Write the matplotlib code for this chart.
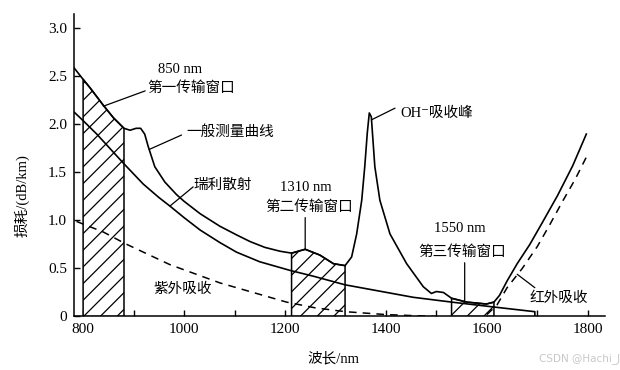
import numpy as np
import matplotlib
matplotlib.use("Agg")
import matplotlib.pyplot as plt

plt.rcParams['font.family'] = ['Liberation Serif', 'Noto Sans CJK SC', 'DejaVu Sans']
plt.rcParams['font.size'] = 10.5
plt.rcParams['hatch.linewidth'] = 0.9

# general measured loss curve (nm, dB/km)
meas_nm = [782, 800, 814, 840, 860, 881, 893, 905, 914, 922, 929, 942, 962, 985, 1000,
           1032, 1071, 1104, 1131, 1160, 1190, 1213, 1240, 1269, 1296, 1319, 1332, 1342, 1352,
           1358, 1363, 1367, 1371, 1378, 1388, 1408, 1441, 1474, 1490, 1500, 1514,
           1530, 1560, 1599, 1614, 1625, 1640, 1660, 1685, 1710, 1740, 1770, 1797]
meas_db = [2.59, 2.47, 2.38, 2.20, 2.07, 1.96, 1.94, 1.96, 1.96, 1.90, 1.77, 1.56, 1.40, 1.27, 1.20,
           1.07, 0.94, 0.85, 0.78, 0.72, 0.68, 0.66, 0.70, 0.64, 0.55, 0.53, 0.62, 0.86, 1.21,
           1.56, 1.91, 2.12, 2.08, 1.56, 1.21, 0.86, 0.55, 0.31, 0.24, 0.26, 0.25,
           0.19, 0.15, 0.13, 0.15, 0.22, 0.37, 0.55, 0.75, 0.98, 1.26, 1.57, 1.90]

# Rayleigh scattering
ray_nm = [782, 800, 827, 881, 919, 950, 972, 1000, 1032, 1071, 1104, 1150, 1210, 1256, 1319,
          1454, 1530, 1612, 1695, 1695]
ray_db = [2.13, 2.04, 1.90, 1.59, 1.38, 1.24, 1.15, 1.03, 0.90, 0.77, 0.67, 0.57, 0.48, 0.42, 0.33,
          0.20, 0.15, 0.10, 0.05, 0.0]

# UV absorption
uv_nm = [787, 840, 883, 972, 1071, 1203, 1260, 1320, 1400, 1500]
uv_db = [0.99, 0.88, 0.76, 0.54, 0.35, 0.15, 0.09, 0.05, 0.02, 0.0]

# IR absorption
ir_nm = [1600, 1620, 1640, 1670, 1700, 1725, 1750, 1775, 1797]
ir_db = [0.02, 0.12, 0.30, 0.50, 0.73, 0.96, 1.20, 1.43, 1.66]

# transmission windows (start, end)
windows = [(800, 881), (1213, 1319), (1530, 1614)]

fig = plt.figure(figsize=(6.2, 3.7), dpi=100)
ax = fig.add_axes([0.1194, 0.1446, 0.8564, 0.8174])

x = np.array(meas_nm)
y = np.array(meas_db)
for a, b in windows:
    ax.fill_between(x, 0, y, where=(x >= a) & (x <= b), facecolor='white',
                    edgecolor='black', hatch='//', linewidth=1.1, zorder=2)

ax.plot(meas_nm, meas_db, color='black', lw=1.2, zorder=3)
ax.plot(ray_nm, ray_db, color='black', lw=1.2, zorder=3)
ax.plot(uv_nm, uv_db, color='black', lw=1.1, ls=(0, (5, 4)), zorder=3)
ax.plot(ir_nm, ir_db, color='black', lw=1.1, ls=(0, (5, 4)), zorder=3)

lead = dict(arrowstyle='-', color='black', lw=0.9, shrinkA=0, shrinkB=0)
ax.text(992, 2.57, '850 nm', ha='center', va='center')
ax.text(1014, 2.38, '第一传输窗口', ha='center', va='center')
ax.annotate('', xy=(840, 2.19), xytext=(923, 2.35), arrowprops=lead)

ax.text(1091, 1.92, '一般测量曲线', ha='center', va='center')
ax.annotate('', xy=(931, 1.74), xytext=(995, 1.89), arrowprops=lead)

ax.text(1076, 1.37, '瑞利散射', ha='center', va='center')
ax.annotate('', xy=(972, 1.15), xytext=(1018, 1.35), arrowprops=lead)

ax.text(1242, 1.34, '1310 nm', ha='center', va='center')
ax.text(1248, 1.14, '第二传输窗口', ha='center', va='center')
ax.annotate('', xy=(1240, 0.70), xytext=(1240, 1.03), arrowprops=lead)

ax.text(1428, 2.12, 'OH⁻吸收峰', ha='left', va='center')
ax.annotate('', xy=(1372, 2.05), xytext=(1418, 2.17), arrowprops=lead)

ax.text(1547, 0.92, '1550 nm', ha='center', va='center')
ax.text(1551, 0.67, '第三传输窗口', ha='center', va='center')
ax.annotate('', xy=(1556, 0.16), xytext=(1556, 0.56), arrowprops=lead)

ax.text(1743, 0.19, '红外吸收', ha='center', va='center')
ax.annotate('', xy=(1660, 0.44), xytext=(1695, 0.30), arrowprops=lead)

ax.text(997, 0.28, '紫外吸收', ha='center', va='center')

ax.set_xlim(782, 1834)
ax.set_ylim(0, 3.15)
ax.spines['top'].set_visible(False)
ax.spines['right'].set_visible(False)
for s in ('left', 'bottom'):
    ax.spines[s].set_linewidth(1.1)

ax.set_xticks(range(800, 1801, 200))
ax.set_xticks(range(900, 1801, 200), minor=True)
ax.set_yticks(np.arange(0, 3.01, 0.5))
ax.set_yticklabels(['0', '0.5', '1.0', '1.5', '2.0', '2.5', '3.0'])
ax.tick_params(which='both', direction='in', length=4.5, width=1.0, pad=5, labelsize=11)

ax.set_xlabel('波长/nm', fontsize=10.5)
ax.set_ylabel('损耗/(dB/km)', fontsize=10.5)
ax.xaxis.set_label_coords(0.488, -0.117)
ax.yaxis.set_label_coords(-0.083, 0.40)

fig.text(0.935, 0.032, 'CSDN @Hachi_J', ha='center', va='center', fontsize=7.5,
         color='#c8c8c8', family='DejaVu Sans')

fig.savefig('out.png', dpi=100)
